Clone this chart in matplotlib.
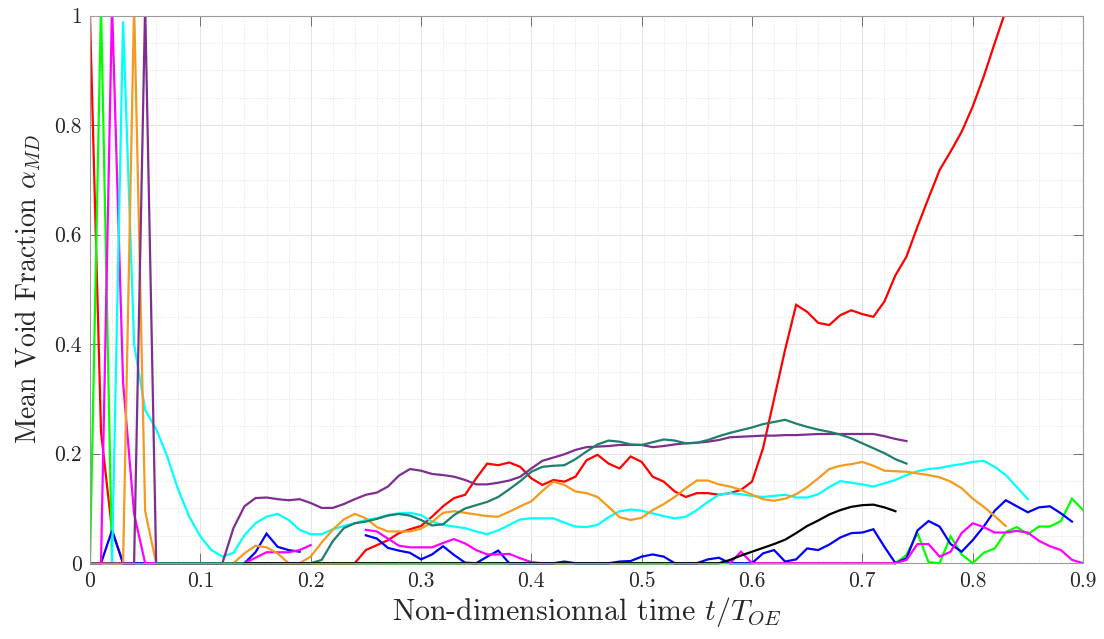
import matplotlib
matplotlib.use('Agg')
import matplotlib.pyplot as plt
import numpy as np
from matplotlib.ticker import MultipleLocator
from matplotlib.transforms import Bbox, TransformedBbox

nan = np.nan
dt = 0.01  # sampling step of every series

# each series: start time + values every dt (nan = not recorded)
red_t0 = 0.0
red = ([1.0, 0.24, 0.06] + [0.0] * 22 +
       [0.024, 0.033, 0.042, 0.055, 0.062, 0.068, 0.085, 0.104, 0.119, 0.125,
        0.155, 0.182, 0.179, 0.184, 0.176, 0.155, 0.143, 0.152, 0.149, 0.158,
        0.188, 0.198, 0.182, 0.173, 0.195, 0.185, 0.158, 0.149, 0.131, 0.121,
        0.128, 0.128, 0.125, 0.128, 0.134, 0.149, 0.21, 0.30, 0.39, 0.472,
        0.459, 0.439, 0.435, 0.453, 0.462, 0.455, 0.450, 0.478, 0.526, 0.560,
        0.615, 0.667, 0.718, 0.752, 0.788, 0.834, 0.889, 0.950, 1.01, 1.07])

green_t0 = 0.0
green = ([0.0, 1.02, 0.0] + [0.0] * 70 +
         [0.0, 0.015, 0.055, 0.002, 0.0, 0.049, 0.016, 0.0, 0.019, 0.027,
          0.057, 0.066, 0.053, 0.067, 0.067, 0.077, 0.118, 0.097])

blue_t0 = 0.0
blue = ([0.0, 0.0, 0.06, 0.0] + [0.0] * 10 +
        [0.0, 0.02, 0.054, 0.03, 0.024, 0.021] + [nan] * 5 +
        [0.051, 0.045, 0.028, 0.023, 0.019, 0.007, 0.016, 0.031, 0.015, 0.001,
         0.0, 0.012, 0.023, 0.0, 0.0, 0.0, 0.0, 0.0, 0.003, 0.0,
         0.0, 0.0, 0.0, 0.003, 0.004, 0.012, 0.016, 0.012, 0.0, 0.0,
         0.0, 0.007, 0.010, 0.0, 0.0, 0.0, 0.018, 0.024, 0.003, 0.007,
         0.027, 0.024, 0.034, 0.047, 0.055, 0.056, 0.062, 0.030, 0.0, 0.009,
         0.060, 0.077, 0.067, 0.035, 0.021, 0.042, 0.067, 0.096, 0.115, 0.104,
         0.093, 0.102, 0.104, 0.091, 0.076])

magenta_t0 = 0.0
magenta = ([0.0, 0.0, 1.02, 0.33, 0.09, 0.0, 0.0] + [nan] * 7 +
           [0.0, 0.01, 0.02, 0.02, 0.02, 0.024, 0.033] + [nan] * 4 +
           [0.061, 0.058, 0.045, 0.032, 0.029, 0.029, 0.029, 0.037, 0.044, 0.036,
            0.024, 0.016, 0.016, 0.017, 0.009, 0.002, 0.0] + [nan] * 16 +
           [0.0, 0.021, 0.0] + [0.0] * 13 +
           [0.006, 0.035, 0.035, 0.012, 0.021, 0.055, 0.073, 0.066, 0.056, 0.056,
            0.059, 0.056, 0.041, 0.031, 0.024, 0.006, 0.0])

cyan_t0 = 0.0
cyan = [0.0, 0.0, 0.0, 0.99, 0.40, 0.28, 0.245, 0.195, 0.134, 0.085,
        0.049, 0.024, 0.012, 0.019, 0.051, 0.073, 0.085, 0.090, 0.079, 0.061,
        0.053, 0.053, 0.062, 0.068, 0.073, 0.079, 0.082, 0.088, 0.091, 0.092,
        0.088, 0.076, 0.070, 0.067, 0.064, 0.058, 0.053, 0.060, 0.070, 0.080,
        0.082, 0.082, 0.082, 0.074, 0.067, 0.066, 0.070, 0.084, 0.095, 0.098,
        0.096, 0.091, 0.086, 0.082, 0.085, 0.097, 0.112, 0.125, 0.128, 0.126,
        0.123, 0.121, 0.123, 0.125, 0.120, 0.120, 0.126, 0.139, 0.150, 0.147,
        0.144, 0.140, 0.146, 0.152, 0.161, 0.168, 0.172, 0.174, 0.178, 0.181,
        0.185, 0.187, 0.176, 0.161, 0.139, 0.117]

orange_t0 = 0.0
orange = [0.0, 0.0, 0.0, 0.0, 1.02, 0.095, 0.0, 0.0, 0.0, 0.0,
          0.0, 0.0, 0.0, 0.0, 0.018, 0.032, 0.029, 0.018, 0.0, 0.0,
          0.012, 0.038, 0.061, 0.080, 0.090, 0.082, 0.066, 0.058, 0.058, 0.058,
          0.063, 0.075, 0.092, 0.095, 0.092, 0.089, 0.086, 0.085, 0.094, 0.104,
          0.113, 0.132, 0.149, 0.143, 0.131, 0.128, 0.121, 0.103, 0.084, 0.079,
          0.083, 0.097, 0.108, 0.121, 0.137, 0.151, 0.151, 0.144, 0.140, 0.134,
          0.125, 0.117, 0.114, 0.118, 0.126, 0.139, 0.155, 0.172, 0.178, 0.181,
          0.185, 0.178, 0.169, 0.168, 0.167, 0.164, 0.161, 0.157, 0.149, 0.137,
          0.118, 0.103, 0.086, 0.068]

purple_t0 = 0.0
purple = [0.0, 0.0, 0.0, 0.0, 0.0, 1.02, 0.0, 0.0, 0.0, 0.0,
          0.0, 0.0, 0.0, 0.064, 0.104, 0.119, 0.120, 0.117, 0.115, 0.117,
          0.110, 0.101, 0.101, 0.108, 0.117, 0.125, 0.129, 0.140, 0.160, 0.172,
          0.169, 0.163, 0.161, 0.158, 0.152, 0.144, 0.144, 0.147, 0.151, 0.158,
          0.173, 0.187, 0.193, 0.199, 0.207, 0.212, 0.213, 0.214, 0.216, 0.216,
          0.216, 0.212, 0.214, 0.217, 0.219, 0.220, 0.222, 0.225, 0.230, 0.231,
          0.232, 0.233, 0.233, 0.234, 0.234, 0.235, 0.236, 0.236, 0.236, 0.236,
          0.236, 0.236, 0.232, 0.227, 0.223]

teal_t0 = 0.06
teal = ([0.0] * 14 +
        [0.0, 0.006, 0.04, 0.064, 0.073, 0.076, 0.081, 0.087, 0.090, 0.087,
         0.079, 0.069, 0.071, 0.088, 0.100, 0.106, 0.112, 0.121, 0.135, 0.150,
         0.167, 0.176, 0.178, 0.179, 0.190, 0.204, 0.217, 0.224, 0.222, 0.217,
         0.216, 0.221, 0.226, 0.224, 0.219, 0.220, 0.225, 0.232, 0.238, 0.243,
         0.248, 0.254, 0.258, 0.262, 0.255, 0.249, 0.244, 0.240, 0.235, 0.228,
         0.219, 0.210, 0.201, 0.190, 0.182])

black_t0 = 0.14
black = ([0.0] * 44 +
         [0.006, 0.014, 0.021, 0.028, 0.035, 0.043, 0.055, 0.068, 0.078, 0.089,
          0.097, 0.103, 0.106, 0.107, 0.102, 0.095])

series = [
    (red_t0, red, '#ff0000'),
    (green_t0, green, '#00ff00'),
    (blue_t0, blue, '#0000ff'),
    (magenta_t0, magenta, '#ff00ff'),
    (cyan_t0, cyan, '#00ffff'),
    (orange_t0, orange, '#f39a1f'),
    (purple_t0, purple, '#7e2f8e'),
    (teal_t0, teal, '#1f7f6c'),
    (black_t0, black, '#000000'),
]

xticks = [0, 0.1, 0.2, 0.3, 0.4, 0.5, 0.6, 0.7, 0.8, 0.9]
xticklabels = ['0', '0.1', '0.2', '0.3', '0.4', '0.5', '0.6', '0.7', '0.8', '0.9']
yticks = [0, 0.2, 0.4, 0.6, 0.8, 1]
yticklabels = ['0', '0.2', '0.4', '0.6', '0.8', '1']

plt.rcParams['font.family'] = 'serif'
plt.rcParams['font.serif'] = ['cmr10']
plt.rcParams['mathtext.fontset'] = 'cm'
plt.rcParams['axes.formatter.use_mathtext'] = True

fig = plt.figure(figsize=(11.04, 6.39), dpi=100)
ax = fig.add_axes([0.0815, 0.1186, 0.8995, 0.8568])

# let lines lying on y=0 show at full width (like matlab does)
clip = TransformedBbox(Bbox([[0, -0.01], [1, 1]]), ax.transAxes)

for t0, vals, col in series:
    v = np.array(vals, dtype=float)
    t = t0 + dt * np.arange(len(v))
    line, = ax.plot(t, v, color=col, linewidth=1.6, solid_joinstyle='miter')
    line.set_clip_box(clip)

ax.set_xlim(0, 0.9)
ax.set_ylim(0, 1)
ax.set_xticks(xticks)
ax.set_xticklabels(xticklabels)
ax.set_yticks(yticks)
ax.set_yticklabels(yticklabels)
ax.xaxis.set_minor_locator(MultipleLocator(0.02))
ax.yaxis.set_minor_locator(MultipleLocator(0.05))

ax.set_axisbelow(True)
ax.grid(which='major', color='#e3e3e3', linewidth=0.7)
ax.grid(which='minor', color='#e3e3e3', linestyle=':', linewidth=0.7)

ax.tick_params(which='major', direction='in', top=True, right=True,
               length=7, width=0.7, color='#707070', labelsize=15.5,
               labelcolor='#262626', pad=6)
ax.tick_params(which='minor', length=0)
for spine in ['left', 'right', 'top', 'bottom']:
    ax.spines[spine].set_color('#9a9a9a')
    ax.spines[spine].set_linewidth(0.8)

ax.set_xlabel('Non-dimensionnal time $t/T_{OE}$', fontsize=21.5, labelpad=3,
              color='#262626')
ax.set_ylabel(r'Mean Void Fraction $\alpha_{MD}$', fontsize=20, labelpad=8,
              color='#262626')

plt.savefig('out.png', dpi=100)
